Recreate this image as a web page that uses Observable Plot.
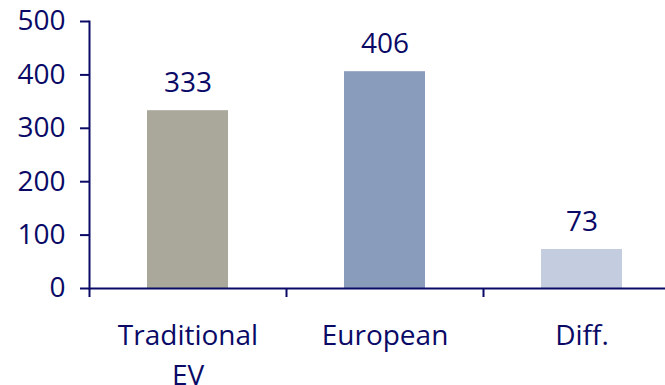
<!DOCTYPE html>
<html>
<head>
<meta charset="utf-8">
<script src="https://cdn.jsdelivr.net/npm/d3@7"></script>
<script src="https://cdn.jsdelivr.net/npm/@observablehq/plot@0.6"></script>
<style>
  html, body { margin: 0; padding: 0; background: #fff; overflow: hidden; }
</style>
</head>
<body>
<div id="chart"></div>
<script>
const categories = ["Traditional\nEV", "European", "Diff."];
const values = [333, 406, 73];
const colors = ["#a9a89a", "#8a9cbb", "#c3cddf"];
const yTicks = [0, 100, 200, 300, 400, 500];

const data = categories.map((c, i) => ({cat: c, value: values[i], color: colors[i]}));
const navy = "#0a0a66";
const font = "'Open Sans', sans-serif";
const step = (680 - 89) / categories.length;

const chart = Plot.plot({
  width: 665,
  height: 385,
  marginTop: 21,
  marginBottom: 97,
  marginLeft: 89,
  marginRight: 0,
  style: {fontFamily: font, fontSize: "28px", color: navy, background: "#fff"},
  x: {domain: categories, range: [89, 680], padding: 0},
  y: {domain: [0, 500]},
  marks: [
    Plot.barY(data, {x: "cat", y: "value", fill: "color", insetLeft: 58, insetRight: 58}),
    Plot.text(data, {x: "cat", y: "value", text: d => String(d.value), lineAnchor: "bottom", dy: -19, fill: navy, fontSize: 28}),
    Plot.axisY({ticks: yTicks, tickSize: 9, tickPadding: 15, stroke: navy, strokeWidth: 2, fill: navy, fontSize: 28, label: null}),
    Plot.axisX({tickSize: 0, tickPadding: 28, fill: navy, fontSize: 28, lineHeight: 1.43, label: null}),
    Plot.axisX({tickSize: 9, tickFormat: () => "", dx: -step / 2, stroke: navy, strokeWidth: 2, label: null}),
    Plot.frame({anchor: "left", stroke: navy, strokeWidth: 2}),
    Plot.ruleY([0], {stroke: navy, strokeWidth: 2})
  ]
});
document.getElementById("chart").appendChild(chart);
</script>
</body>
</html>
